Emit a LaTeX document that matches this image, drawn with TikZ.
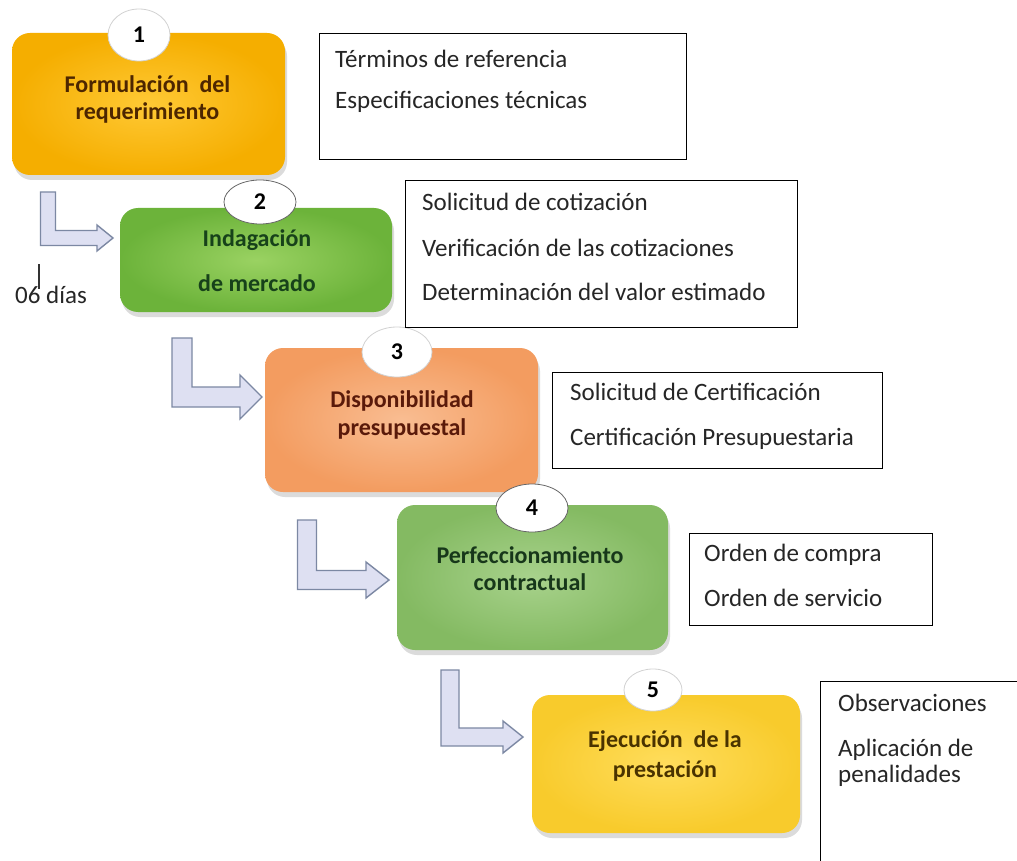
\documentclass[tikz,border=0pt]{standalone}
\usepackage{fontspec}
\setmainfont{Carlito}
\usetikzlibrary{shadows,calc,shapes.geometric}
\definecolor{arrowfill}{HTML}{DEE0F2}
\definecolor{arrowline}{HTML}{7C88A3}
\definecolor{oA}{HTML}{F5AE00}\definecolor{iA}{HTML}{FFC935}\definecolor{tA}{HTML}{4D2600}
\definecolor{oB}{HTML}{6CB33A}\definecolor{iB}{HTML}{9AD262}\definecolor{tB}{HTML}{17421A}
\definecolor{oC}{HTML}{F39C60}\definecolor{iC}{HTML}{F9BD92}\definecolor{tC}{HTML}{5A1A0A}
\definecolor{oD}{HTML}{84BA62}\definecolor{iD}{HTML}{A8D28C}\definecolor{tD}{HTML}{17371A}
\definecolor{oE}{HTML}{F8CB2C}\definecolor{iE}{HTML}{FFDD5C}\definecolor{tE}{HTML}{4A3300}
\newcommand\Larrow[5]{%
  \filldraw[larrow] let \p1=(#1), \p2=(#2) in
    (\x1-#3/2,\y1) -- (\x1+#3/2,\y1) -- (\x1+#3/2,\y2+#3/2) -- (\x2-#4,\y2+#3/2)
    -- (\x2-#4,\y2+#5) -- (\x2,\y2) -- (\x2-#4,\y2-#5) -- (\x2-#4,\y2-#3/2)
    -- (\x1-#3/2,\y2-#3/2) -- cycle;}
\begin{document}
\begin{tikzpicture}[x=1pt,y=-1pt,
  stepbox/.style={rounded corners=18pt, inner sep=0pt,
     drop shadow={opacity=0.28, shadow xshift=2pt, shadow yshift=-5pt}},
  numc/.style={ellipse, fill=white, draw=gray!35, line width=0.8pt, inner sep=0pt,
     font=\fontsize{24}{24}\selectfont\bfseries},
  steptext/.style={align=center, font=\fontsize{24}{27}\selectfont\bfseries, inner sep=0pt},
  infobox/.style={draw=black, line width=1.4pt, fill=white, inner sep=0pt, anchor=north west},
  infotext/.style={anchor=base west, inner sep=0pt, font=\fontsize{25}{28}\selectfont, text=black!85},
  larrow/.style={fill=arrowfill, draw=arrowline, line width=1.4pt, line join=miter}
]
\useasboundingbox (0,0) rectangle (1017,861);
\fill[white] (0,0) rectangle (1017,861);

% arrows (from box i to box i+1)
\coordinate (a1s) at (48,192);  \coordinate (a1t) at (113,238);
\coordinate (a2s) at (182,338); \coordinate (a2t) at (262,397);
\coordinate (a3s) at (307,520); \coordinate (a3t) at (389,580);
\coordinate (a4s) at (450,670); \coordinate (a4t) at (523,737);
\Larrow{a1s}{a1t}{15pt}{16pt}{13pt}
\Larrow{a2s}{a2t}{20pt}{22pt}{22pt}
\Larrow{a3s}{a3t}{19pt}{23pt}{18pt}
\Larrow{a4s}{a4t}{18pt}{20pt}{16pt}

% step boxes
\node[stepbox, inner color=iA, outer color=oA, minimum width=273pt, minimum height=142pt] (b1) at (148.5,104) {};
\node[stepbox, inner color=iB, outer color=oB, minimum width=272pt, minimum height=104pt] (b2) at (256,260) {};
\node[stepbox, inner color=iC, outer color=oC, minimum width=273pt, minimum height=144pt] (b3) at (401.5,420) {};
\node[stepbox, inner color=iD, outer color=oD, minimum width=271pt, minimum height=145pt] (b4) at (532.5,577.5) {};
\node[stepbox, inner color=iE, outer color=oE, minimum width=268pt, minimum height=138pt] (b5) at (666,764) {};

% step texts
\node[steptext, text=tA] (s1) at (147.5,99) {Formulación~~del\\requerimiento};
\node[steptext, text=tB, font=\fontsize{24}{45}\selectfont\bfseries] (s2) at (257,261) {Indagación\\de mercado};
\node[steptext, text=tC, font=\fontsize{24}{28}\selectfont\bfseries] (s3) at (402,415) {Disponibilidad\\presupuestal};
\node[steptext, text=tD] (s4) at (530,569) {Perfeccionamiento\\contractual};
\node[steptext, text=tE, font=\fontsize{24}{30}\selectfont\bfseries] (s5) at (665,756) {Ejecución~~de la\\prestación};

% number circles
\node[numc, minimum width=62pt, minimum height=52pt] (c1) at (139,35) {1};
\node[numc, draw=black!60, minimum width=72pt, minimum height=44pt] (c2) at (260,202) {2};
\node[numc, minimum width=70pt, minimum height=50pt] (c3) at (397,352) {3};
\node[numc, draw=black!60, minimum width=72pt, minimum height=48pt] (c4) at (532,508) {4};
\node[numc, minimum width=58pt, minimum height=42pt] (c5) at (653,690) {5};

% info boxes
\node[infobox, minimum width=367pt, minimum height=126pt] (i1) at (319,33) {};
\node[infobox, minimum width=392pt, minimum height=147pt] (i2) at (405,180) {};
\node[infobox, minimum width=330pt, minimum height=96pt] (i3) at (552,372) {};
\node[infobox, minimum width=243pt, minimum height=92pt] (i4) at (689,533) {};
\node[infobox, minimum width=230pt, minimum height=200pt] (i5) at (820,681) {};

% info texts
\node[infotext] (t1a) at (335,68) {Términos de referencia};
\node[infotext] (t1b) at (335,109) {Especificaciones técnicas};
\node[infotext] (t2a) at (422,211) {Solicitud de cotización};
\node[infotext] (t2b) at (422,256) {Verificación de las cotizaciones};
\node[infotext] (t2c) at (422,300) {Determinación del valor estimado};
\node[infotext] (t3a) at (570,400) {Solicitud de Certificación};
\node[infotext] (t3b) at (570,445) {Certificación Presupuestaria};
\node[infotext] (t4a) at (704,561) {Orden de compra};
\node[infotext] (t4b) at (704,606) {Orden de servicio};
\node[infotext] (t5a) at (838,711) {Observaciones};
\node[infotext] (t5b) at (838,756) {Aplicación de};
\node[infotext] (t5c) at (838,782) {penalidades};

% days label
\node[infotext] (d) at (15,303) {06 días};
\coordinate (tk) at (39,264);
\draw[line width=1.2pt, black!80] (tk) -- ++(0,25);
\end{tikzpicture}
\end{document}
